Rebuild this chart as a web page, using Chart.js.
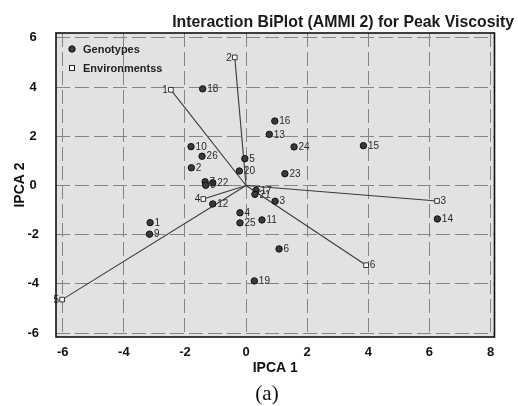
<!DOCTYPE html>
<html>
<head>
<meta charset="utf-8">
<script src="https://cdn.jsdelivr.net/npm/chart.js@4.4.1/dist/chart.umd.min.js"></script>
<style>
  html, body { margin: 0; padding: 0; background: #ffffff; }
  #wrap { width: 518px; height: 406px; position: relative; }
</style>
</head>
<body>
<div id="wrap"><canvas id="c" width="518" height="406"></canvas></div>
<script>
// ---- data ----
const genoLabels = ['1','2','3','4','5','6','7','8','9','10','11','12','13','14','15','16','17','18','19','20','21','22','23','24','25','26'];
const genoX = [-3.14, -1.79, 0.95, -0.20, -0.04, 1.08, -1.34, -1.32, -3.16, -1.80, 0.52, -1.09, 0.76, 6.26, 3.84, 0.94, 0.33, -1.42, 0.27, -0.22, 0.29, -1.09, 1.27, 1.57, -0.20, -1.44];
const genoY = [-1.51, 0.72, -0.64, -1.11, 1.09, -2.58, 0.15, 0.01, -1.98, 1.58, -1.40, -0.75, 2.08, -1.36, 1.62, 2.62, -0.20, 3.93, -3.88, 0.59, -0.36, 0.11, 0.48, 1.57, -1.52, 1.19];

const envLabels = ['1','2','3','4','5','6'];
const envX = [-2.46, -0.37, 6.25, -1.40, -6.02, 3.93];
const envY = [3.89, 5.21, -0.63, -0.55, -4.64, -3.24];
const envLabelSide = ['left','left','right','left','left','right'];

const xTicks = [-6, -4, -2, 0, 2, 4, 6, 8];
const yTicks = [-6, -4, -2, 0, 2, 4, 6];

const titleText = 'Interaction BiPlot (AMMI 2) for Peak Viscosity';
const xTitle = 'IPCA 1';
const yTitle = 'IPCA 2';
const captionText = '(a)';
const legendItems = ['Genotypes', 'Environmentss'];

// ---- datasets ----
const genoPoints = genoX.map((x, i) => ({x: x, y: genoY[i]}));
const envPoints = envX.map((x, i) => ({x: x, y: envY[i]}));

const datasets = [
  {
    label: legendItems[0],
    data: genoPoints,
    pointStyle: 'circle',
    pointRadius: 3.2,
    pointBackgroundColor: '#3a3a3a',
    pointBorderColor: '#111111',
    pointBorderWidth: 1,
    showLine: false,
    order: 0
  },
  {
    label: legendItems[1],
    data: envPoints,
    pointStyle: 'rect',
    pointRadius: 3.3,
    pointBackgroundColor: '#ffffff',
    pointBorderColor: '#333333',
    pointBorderWidth: 1,
    showLine: false,
    order: 1
  }
];
envPoints.forEach((p) => {
  datasets.push({
    data: [{x: 0, y: 0}, p],
    showLine: true,
    borderColor: '#3a3a3a',
    borderWidth: 1.1,
    pointRadius: 0,
    fill: false,
    order: 2
  });
});

// ---- plugins ----
const decor = {
  id: 'decor',
  beforeDraw(chart) {
    const {ctx, chartArea: a} = chart;
    ctx.save();
    ctx.fillStyle = '#e2e2e2';
    ctx.fillRect(a.left, a.top, a.right - a.left, a.bottom - a.top);
    ctx.restore();
  },
  afterDatasetsDraw(chart) {
    const {ctx} = chart;
    const xs = chart.scales.x, ys = chart.scales.y;
    ctx.save();
    ctx.fillStyle = '#2a2a2a';
    ctx.font = '10px "Liberation Sans", Arial, sans-serif';
    ctx.textBaseline = 'middle';
    ctx.textAlign = 'left';
    genoLabels.forEach((t, i) => {
      ctx.fillText(t, xs.getPixelForValue(genoX[i]) + 4.5, ys.getPixelForValue(genoY[i]) + 0.5);
    });
    envLabels.forEach((t, i) => {
      const px = xs.getPixelForValue(envX[i]);
      const py = ys.getPixelForValue(envY[i]);
      if (envLabelSide[i] === 'left') {
        ctx.textAlign = 'right';
        ctx.fillText(t, px - 3, py + 0.5);
      } else {
        ctx.textAlign = 'left';
        ctx.fillText(t, px + 3.5, py + 0.5);
      }
    });
    ctx.restore();
  },
  afterDraw(chart) {
    const {ctx, chartArea: a} = chart;
    ctx.save();
    // plot frame
    ctx.strokeStyle = '#111111';
    ctx.lineWidth = 1.6;
    ctx.strokeRect(a.left, a.top, a.right - a.left, a.bottom - a.top);

    // legend inside plot
    const lx = a.left + 16, ly1 = a.top + 16, ly2 = a.top + 35;
    ctx.beginPath();
    ctx.arc(lx, ly1, 3.2, 0, Math.PI * 2);
    ctx.fillStyle = '#3a3a3a';
    ctx.fill();
    ctx.lineWidth = 1;
    ctx.strokeStyle = '#111';
    ctx.stroke();
    ctx.fillStyle = '#ffffff';
    ctx.fillRect(lx - 2.5, ly2 - 2.5, 5, 5);
    ctx.strokeStyle = '#222';
    ctx.strokeRect(lx - 2.5, ly2 - 2.5, 5, 5);
    ctx.fillStyle = '#222222';
    ctx.font = 'bold 11px "Liberation Sans", Arial, sans-serif';
    ctx.textAlign = 'left';
    ctx.textBaseline = 'middle';
    ctx.fillText(legendItems[0], lx + 11, ly1 + 0.5);
    ctx.fillText(legendItems[1], lx + 11, ly2 + 0.5);

    // title (right aligned), sized to the reference width
    let fs = 16;
    ctx.font = 'bold ' + fs + 'px "Liberation Sans", Arial, sans-serif';
    const w = ctx.measureText(titleText).width;
    fs = fs * 342 / w;
    ctx.font = 'bold ' + fs.toFixed(2) + 'px "Liberation Sans", Arial, sans-serif';
    ctx.textAlign = 'right';
    ctx.textBaseline = 'alphabetic';
    ctx.fillStyle = '#1a1a1a';
    ctx.fillText(titleText, 514, 27);

    // caption
    ctx.font = '21px "Liberation Serif", "Times New Roman", serif';
    ctx.textAlign = 'center';
    ctx.textBaseline = 'middle';
    ctx.fillStyle = '#111';
    ctx.fillText(captionText, 267, 394);
    ctx.restore();
  }
};

const tickFont = {family: '"Liberation Sans", Arial, sans-serif', size: 13, weight: 'bold'};
const titleFont = {family: '"Liberation Sans", Arial, sans-serif', size: 14, weight: 'bold'};

new Chart(document.getElementById('c'), {
  type: 'scatter',
  data: {datasets: datasets},
  plugins: [decor],
  options: {
    responsive: false,
    animation: false,
    events: [],
    layout: {padding: {top: 33, right: 23.5, bottom: 0, left: 0}},
    plugins: {legend: {display: false}, tooltip: {enabled: false}, title: {display: false}},
    scales: {
      x: {
        type: 'linear',
        min: -6.22,
        max: 8.13,
        afterBuildTicks: (s) => { s.ticks = xTicks.map(v => ({value: v})); },
        afterFit: (s) => { s.height = 69; },
        ticks: {font: tickFont, color: '#111', padding: 8, maxRotation: 0, autoSkip: false},
        grid: {color: '#858585', lineWidth: 1, drawTicks: false},
        border: {display: false, dash: [14, 5]},
        title: {display: true, text: xTitle, font: titleFont, color: '#111', padding: {top: 0, bottom: 29.6}}
      },
      y: {
        type: 'linear',
        min: -6.16,
        max: 6.2,
        afterBuildTicks: (s) => { s.ticks = yTicks.map(v => ({value: v})); },
        afterFit: (s) => { s.width = 56; },
        ticks: {font: tickFont, color: '#111', padding: 17, crossAlign: 'center', autoSkip: false},
        grid: {color: '#858585', lineWidth: 1, drawTicks: false},
        border: {display: false, dash: [14, 5]},
        title: {display: true, text: yTitle, font: titleFont, color: '#111', padding: {top: 11.6, bottom: 0}}
      }
    }
  }
});
</script>
</body>
</html>
